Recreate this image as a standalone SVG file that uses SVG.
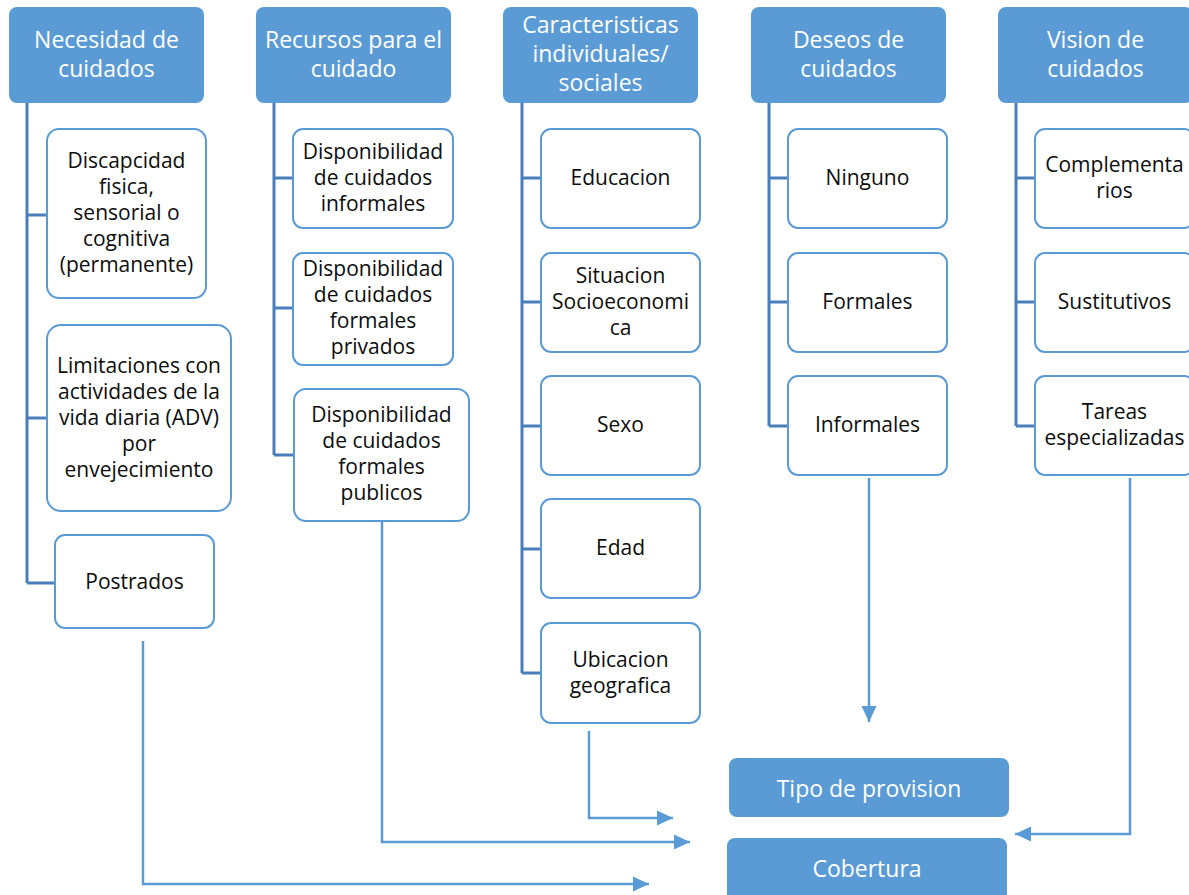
<svg xmlns="http://www.w3.org/2000/svg" width="1189" height="895" viewBox="0 0 1189 895">
<style>
.hdr rect{fill:#5B9BD5}
.hdr text{fill:#fff;font-family:"Open Sans","Liberation Sans",sans-serif;font-size:23px;text-anchor:middle}
.box rect{fill:#fff;stroke:#5B9BD5;stroke-width:2}
.box text{fill:#0d0d0d;font-family:"Open Sans","Liberation Sans",sans-serif;font-size:21px;text-anchor:middle}
.bot rect{fill:#5B9BD5}
.bot text{fill:#fff;font-family:"Open Sans","Liberation Sans",sans-serif;font-size:23px;text-anchor:middle}
.trunk{stroke:#4A7EBB;stroke-width:3;fill:none}
.conn{stroke:#5B9BD5;stroke-width:2.5;fill:none;marker-end:url(#ah)}
</style>
<defs>
<marker id="ah" markerUnits="userSpaceOnUse" markerWidth="17" markerHeight="17" viewBox="0 0 17 17" refX="16" refY="8.5" orient="auto">
<path d="M0,1 L16,8.5 L0,16 Z" fill="#5B9BD5"/>
</marker>
</defs>
<rect width="1189" height="895" fill="#fff"/>

<g id="connectors">
<path class="trunk" d="M27,103 V583 M27,215 H47 M27,418 H47 M27,583 H55"/>
<path class="trunk" d="M274,103 V455 M274,178 H293 M274,308 H293 M274,455 H294"/>
<path class="trunk" d="M522,103 V673 M522,178 H541 M522,302 H541 M522,426 H541 M522,549 H541 M522,673 H541"/>
<path class="trunk" d="M769,103 V426 M769,178 H788 M769,302 H788 M769,426 H788"/>
<path class="trunk" d="M1016,103 V426 M1016,178 H1035 M1016,302 H1035 M1016,426 H1035"/>
<path class="conn" d="M143,641 V884 H649"/>
<path class="conn" d="M382,519 V842 H690"/>
<path class="conn" d="M589,731 V818 H673"/>
<path class="conn" d="M869,478 V722"/>
<path class="conn" d="M1130,478 V834 H1015"/>
</g>

<g id="h-necesidad" class="hdr"><rect x="9" y="7" width="195" height="96" rx="8"/><text x="106.5" y="48">Necesidad de</text><text x="106.5" y="77">cuidados</text></g>
<g id="h-recursos" class="hdr"><rect x="256" y="7" width="195" height="96" rx="8"/><text x="353.5" y="48">Recursos para el</text><text x="353.5" y="77">cuidado</text></g>
<g id="h-caracteristicas" class="hdr"><rect x="503" y="7" width="195" height="96" rx="8"/><text x="600.5" y="33">Caracteristicas</text><text x="600.5" y="62">individuales/</text><text x="600.5" y="91">sociales</text></g>
<g id="h-deseos" class="hdr"><rect x="751" y="7" width="195" height="96" rx="8"/><text x="848.5" y="48">Deseos de</text><text x="848.5" y="77">cuidados</text></g>
<g id="h-vision" class="hdr"><rect x="998" y="7" width="195" height="96" rx="8"/><text x="1095.5" y="48">Vision de</text><text x="1095.5" y="77">cuidados</text></g>

<g id="n-discapacidad" class="box"><rect x="47" y="129" width="159" height="169" rx="12"/><text x="126.5" y="168">Discapcidad</text><text x="126.5" y="194">fisica,</text><text x="126.5" y="220">sensorial o</text><text x="126.5" y="246">cognitiva</text><text x="126.5" y="272">(permanente)</text></g>
<g id="n-limitaciones" class="box"><rect x="47" y="325" width="184" height="186" rx="14"/><text x="139" y="373">Limitaciones con</text><text x="139" y="399">actividades de la</text><text x="139" y="425">vida diaria (ADV)</text><text x="139" y="451">por</text><text x="139" y="477">envejecimiento</text></g>
<g id="n-postrados" class="box"><rect x="55" y="535" width="159" height="93" rx="10"/><text x="134.5" y="589">Postrados</text></g>

<g id="n-informales-disp" class="box"><rect x="293" y="129" width="160" height="99" rx="10"/><text x="373" y="159">Disponibilidad</text><text x="373" y="185">de cuidados</text><text x="373" y="211">informales</text></g>
<g id="n-privados" class="box"><rect x="293" y="253" width="160" height="112" rx="10"/><text x="373" y="276">Disponibilidad</text><text x="373" y="302">de cuidados</text><text x="373" y="328">formales</text><text x="373" y="354">privados</text></g>
<g id="n-publicos" class="box"><rect x="294" y="389" width="175" height="132" rx="12"/><text x="381.5" y="422">Disponibilidad</text><text x="381.5" y="448">de cuidados</text><text x="381.5" y="474">formales</text><text x="381.5" y="500">publicos</text></g>

<g id="n-educacion" class="box"><rect x="541" y="129" width="159" height="99" rx="10"/><text x="620.5" y="185">Educacion</text></g>
<g id="n-situacion" class="box"><rect x="541" y="253" width="159" height="99" rx="10"/><text x="620.5" y="283">Situacion</text><text x="620.5" y="309">Socioeconomi</text><text x="620.5" y="335">ca</text></g>
<g id="n-sexo" class="box"><rect x="541" y="376" width="159" height="99" rx="10"/><text x="620.5" y="432">Sexo</text></g>
<g id="n-edad" class="box"><rect x="541" y="499" width="159" height="99" rx="10"/><text x="620.5" y="555">Edad</text></g>
<g id="n-ubicacion" class="box"><rect x="541" y="623" width="159" height="100" rx="10"/><text x="620.5" y="667">Ubicacion</text><text x="620.5" y="693">geografica</text></g>

<g id="n-ninguno" class="box"><rect x="788" y="129" width="159" height="99" rx="10"/><text x="867.5" y="185">Ninguno</text></g>
<g id="n-formales" class="box"><rect x="788" y="253" width="159" height="99" rx="10"/><text x="867.5" y="309">Formales</text></g>
<g id="n-informales" class="box"><rect x="788" y="376" width="159" height="99" rx="10"/><text x="867.5" y="432">Informales</text></g>

<g id="n-complementarios" class="box"><rect x="1035" y="129" width="159" height="99" rx="10"/><text x="1114.5" y="172">Complementa</text><text x="1114.5" y="198">rios</text></g>
<g id="n-sustitutivos" class="box"><rect x="1035" y="253" width="159" height="99" rx="10"/><text x="1114.5" y="309">Sustitutivos</text></g>
<g id="n-tareas" class="box"><rect x="1035" y="376" width="159" height="99" rx="10"/><text x="1114.5" y="419">Tareas</text><text x="1114.5" y="445">especializadas</text></g>

<g id="n-tipo" class="bot"><rect x="729" y="758" width="280" height="59" rx="8"/><text x="869" y="797">Tipo de provision</text></g>
<g id="n-cobertura" class="bot"><rect x="727" y="838" width="280" height="66" rx="8"/><text x="867" y="877">Cobertura</text></g>
</svg>
